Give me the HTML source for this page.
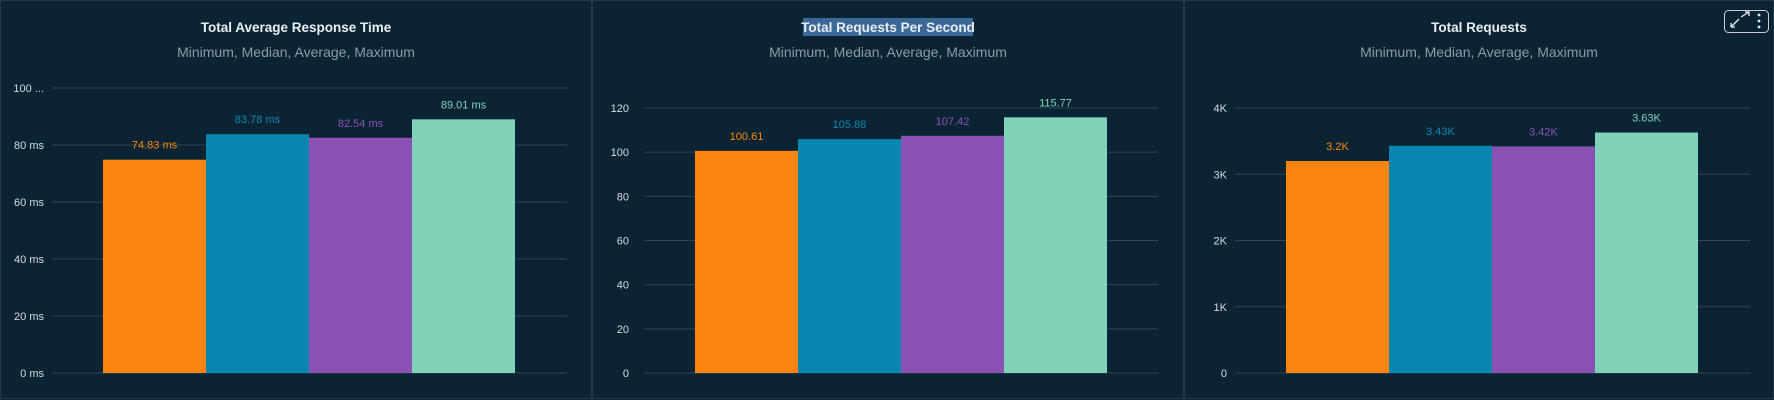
<!DOCTYPE html>
<html><head><meta charset="utf-8"><style>
html,body{margin:0;padding:0;background:#0b2434;width:1774px;height:400px;overflow:hidden;font-family:"Liberation Sans",sans-serif}
svg{display:block}
</style></head><body>
<svg id="c" width="1774" height="400"></svg>
<script>
const categories=["Minimum","Median","Average","Maximum"];
const colors=["#fa850f","#0a87b0","#8b51b4","#80d3b9"];
const rtValues=[74.83,83.78,82.54,89.01];
const rtLabels=["74.83 ms","83.78 ms","82.54 ms","89.01 ms"];
const rtTicks=[0,20,40,60,80,100];
const rtTickLabels=["0 ms","20 ms","40 ms","60 ms","80 ms","100 ..."];
const rpsValues=[100.61,105.88,107.42,115.77];
const rpsLabels=["100.61","105.88","107.42","115.77"];
const rpsTicks=[0,20,40,60,80,100,120];
const rpsTickLabels=["0","20","40","60","80","100","120"];
const trValues=[3200,3430,3420,3630];
const trLabels=["3.2K","3.43K","3.42K","3.63K"];
const trTicks=[0,1000,2000,3000,4000];
const trTickLabels=["0","1K","2K","3K","4K"];

const NS="http://www.w3.org/2000/svg";
const svg=document.getElementById('c');
function mk(tag,attrs,parent,text){const e=document.createElementNS(NS,tag);for(const k in attrs)e.setAttribute(k,attrs[k]);if(text!==undefined)e.textContent=text;(parent||svg).appendChild(e);return e;}

function panel(px,pw,title,slug,vals,labels,ticks,tickLabels,top,gx0,gx1,labelRight,highlight){
  const g=mk('g',{});
  
  
  const bg=mk('rect',{x:px+0.5,y:0.5,width:pw-1,height:398,fill:'#0b2434',stroke:'#22394a','stroke-width':1},g);
  
  
  const cx=px+pw/2;
  if(highlight){
    const hr=mk('rect',{x:cx-85,y:18,width:170,height:18,fill:'#3b6896'},g);
    
    
  }
  const t=mk('text',{x:cx,y:32,'text-anchor':'middle','font-size':13.5,fill:'#e9eef2','font-weight':'bold'},g,title);
  
  
  const st=mk('text',{x:cx,y:57,'text-anchor':'middle','font-size':14,fill:'#8d9ba5'},g,'Minimum, Median, Average, Maximum');
  
  
  const bottom=373;
  const maxV=ticks[ticks.length-1];
  const y=v=>bottom-(v/maxV)*(bottom-top);
  ticks.forEach((tv,i)=>{
    const l=mk('line',{x1:gx0,x2:gx1,y1:y(tv),y2:y(tv),stroke:'#2c4453','stroke-width':1},g);
    
    
    const tl=mk('text',{x:labelRight,y:y(tv)+4,'text-anchor':'end','font-size':11,fill:'#d5dbe0'},g,tickLabels[i]);
    
    
  });
  const bw=103,bx0=gx0+51;
  vals.forEach((v,i)=>{
    const x=bx0+i*bw;
    const b=mk('rect',{x:x,y:y(v),width:bw,height:bottom-y(v),fill:colors[i]},g);
    
    
    const vl=mk('text',{x:x+bw/2,y:y(v)-11,'text-anchor':'middle','font-size':11,fill:colors[i]},g,labels[i]);
    
    
  });
}
panel(0,592,'Total Average Response Time','response-time',rtValues,rtLabels,rtTicks,rtTickLabels,88,52,567,44,false);
panel(592,592,'Total Requests Per Second','requests-per-second',rpsValues,rpsLabels,rpsTicks,rpsTickLabels,108,644,1158,629,true);
panel(1184,590,'Total Requests','total-requests',trValues,trLabels,trTicks,trTickLabels,108,1235,1750,1227,false);

const ib=mk('g',{});


mk('rect',{x:1724.5,y:10.5,width:44,height:22,rx:4,fill:'none',stroke:'#c8d0d6','stroke-width':1},ib);
const ex=mk('path',{d:'M1731 27 L1739 19 M1731 27 L1731 23 M1731 27 L1735 27 M1741 17 L1749 12 M1745 12 L1749 12 L1749 16',stroke:'#e9eef2','stroke-width':1.3,fill:'none'},ib);


const dots=mk('g',{fill:'#e9eef2'},ib);


[15,21,27].forEach(yy=>mk('circle',{cx:1759,cy:yy,r:1.4},dots));
</script>
</body></html>
